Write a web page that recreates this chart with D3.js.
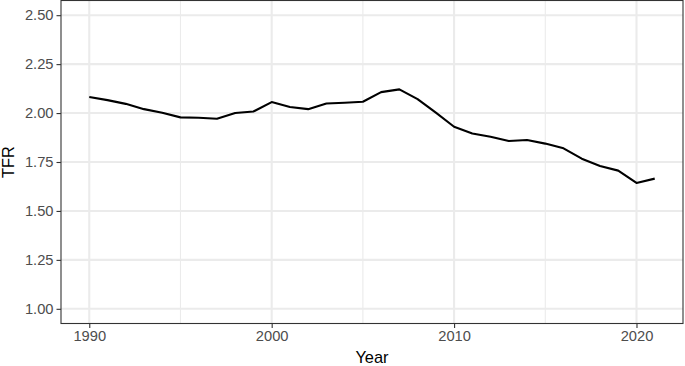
<!DOCTYPE html>
<html>
<head>
<meta charset="utf-8">
<script src="https://cdn.jsdelivr.net/npm/d3@7"></script>
<style>
  html, body { margin: 0; padding: 0; background: #fff; }
  svg { display: block; font-family: "Liberation Sans", Arial, sans-serif; }
</style>
</head>
<body>
<svg id="chart" width="685" height="366"></svg>
<script>
const years = [1990,1991,1992,1993,1994,1995,1996,1997,1998,1999,2000,2001,2002,2003,2004,2005,2006,2007,2008,2009,2010,2011,2012,2013,2014,2015,2016,2017,2018,2019,2020,2021];
const tfr = [2.082,2.066,2.047,2.020,2.002,1.978,1.976,1.971,2.000,2.008,2.056,2.031,2.020,2.049,2.053,2.058,2.107,2.121,2.071,2.002,1.930,1.896,1.879,1.857,1.862,1.844,1.820,1.767,1.730,1.706,1.643,1.665];
const xTicks = [1990, 2000, 2010, 2020];
const xMinor = [1995, 2005, 2015];
const yTicks = [1.00, 1.25, 1.50, 1.75, 2.00, 2.25, 2.50];
const xLabel = "Year";
const yLabel = "TFR";

const svg = d3.select("#chart");
const pL = 61, pR = 683, pT = 0.5, pB = 323.5;

const x = d3.scaleLinear().domain([1988.45, 2022.55]).range([pL, pR]);
const y = d3.scaleLinear().domain([0.925, 2.575]).range([pB, pT]);

// panel background
svg.append("rect").attr("x", pL).attr("y", pT).attr("width", pR-pL).attr("height", pB-pT).attr("fill", "#fff");

// minor grid
svg.append("g").selectAll("line").data(xMinor).join("line")
  .attr("x1", d => x(d)).attr("x2", d => x(d)).attr("y1", pT).attr("y2", pB)
  .attr("stroke", "#ebebeb").attr("stroke-width", 1.1);

// major grid
svg.append("g").selectAll("line").data(xTicks).join("line")
  .attr("x1", d => x(d)).attr("x2", d => x(d)).attr("y1", pT).attr("y2", pB)
  .attr("stroke", "#ebebeb").attr("stroke-width", 2.1);
svg.append("g").selectAll("line").data(yTicks).join("line")
  .attr("x1", pL).attr("x2", pR).attr("y1", d => y(d)).attr("y2", d => y(d))
  .attr("stroke", "#ebebeb").attr("stroke-width", 2.1);

// line
const line = d3.line().x((d, i) => x(years[i])).y(d => y(d));
svg.append("path").datum(tfr).attr("d", line)
  .attr("fill", "none").attr("stroke", "#000").attr("stroke-width", 2.1)
  .attr("stroke-linejoin", "round").attr("stroke-linecap", "butt");

// panel border
svg.append("rect").attr("x", pL).attr("y", pT).attr("width", pR-pL).attr("height", pB-pT)
  .attr("fill", "none").attr("stroke", "#333333").attr("stroke-width", 1.1);

// axes
const xAxis = d3.axisBottom(x).tickValues(xTicks).tickFormat(d3.format("d")).tickSize(4.5).tickPadding(3);
const gx = svg.append("g").attr("transform", `translate(0,${pB})`).call(xAxis);
gx.select(".domain").remove();
gx.selectAll(".tick line").attr("stroke", "#333333").attr("stroke-width", 1.1);
gx.selectAll(".tick text").attr("fill", "#4d4d4d").attr("font-size", "14.7px").attr("font-family", "Liberation Sans, Arial, sans-serif");

const yAxis = d3.axisLeft(y).tickValues(yTicks).tickFormat(d3.format(".2f")).tickSize(4.5).tickPadding(3);
const gy = svg.append("g").attr("transform", `translate(${pL},0)`).call(yAxis);
gy.select(".domain").remove();
gy.selectAll(".tick line").attr("stroke", "#333333").attr("stroke-width", 1.1);
gy.selectAll(".tick text").attr("fill", "#4d4d4d").attr("font-size", "14.7px").attr("font-family", "Liberation Sans, Arial, sans-serif");

// titles
svg.append("text").attr("x", (pL+pR)/2).attr("y", 363)
  .attr("text-anchor", "middle").attr("font-size", "16.4px").attr("fill", "#000").text(xLabel);
svg.append("text").attr("transform", `translate(14,${(pT+pB)/2}) rotate(-90)`)
  .attr("text-anchor", "middle").attr("font-size", "16.4px").attr("fill", "#000").text(yLabel);
</script>
</body>
</html>
